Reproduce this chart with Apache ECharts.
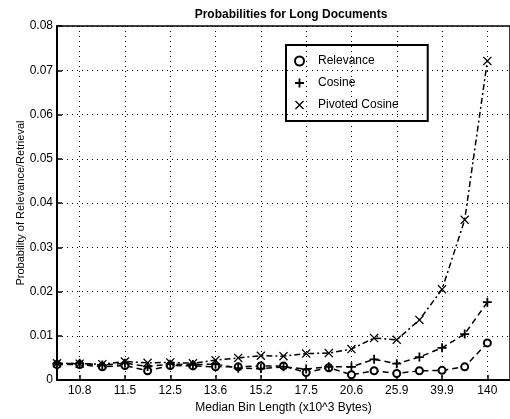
<!DOCTYPE html>
<html>
<head>
<meta charset="utf-8">
<script src="https://cdn.jsdelivr.net/npm/echarts@6/dist/echarts.min.js"></script>
<style>
html,body{margin:0;padding:0;background:#fff;}
#chart{width:510px;height:419px;}
</style>
</head>
<body>
<div id="chart"></div>
<script>
// Bin index 1..21 (21st is empty right margin); ticks labeled on even bins
const tickLabels = ['10.8', '11.5', '12.5', '13.6', '15.2', '17.5', '20.6', '25.9', '39.9', '140'];
const yTicks = [0, 0.01, 0.02, 0.03, 0.04, 0.05, 0.06, 0.07, 0.08];
const relevance = [0.0035, 0.0035, 0.0030, 0.0033, 0.0021, 0.0033, 0.0032, 0.0030, 0.0030, 0.0032,
                   0.0032, 0.0017, 0.0028, 0.0012, 0.0021, 0.0015, 0.0021, 0.0022, 0.0030, 0.0084];
const cosine = [0.0037, 0.0038, 0.0034, 0.0038, 0.0031, 0.0036, 0.0035, 0.0036, 0.0027, 0.0026,
                0.0030, 0.0025, 0.0030, 0.0030, 0.0047, 0.0037, 0.0052, 0.0073, 0.0104, 0.0176];
const pivoted = [0.0038, 0.0037, 0.0036, 0.0042, 0.0039, 0.0040, 0.0038, 0.0045, 0.0050, 0.0055,
                 0.0054, 0.0060, 0.0061, 0.0070, 0.0095, 0.0091, 0.0136, 0.0205, 0.0362, 0.0721];

const categories = [];
for (let i = 0; i < 21; i++) {
  categories.push(i % 2 === 1 ? tickLabels[(i - 1) / 2] : '');
}
const evenBin = (idx) => idx % 2 === 1;

const plusPath = 'path://M4,0h2v4h4v2h-4v4h-2v-4h-4v-2h4z';
const crossPath = 'path://M1,0L5,4L9,0L10,1L6,5L10,9L9,10L5,6L1,10L0,9L4,5L0,1Z';
const FONT = 'Liberation Sans';

const chart = echarts.init(document.getElementById('chart'), null, {renderer: 'canvas'});
chart.setOption({
  animation: false,
  backgroundColor: '#fff',
  textStyle: {fontFamily: FONT, color: '#000'},
  title: {
    text: 'Probabilities for Long Documents',
    left: 286, top: 4, textAlign: 'center',
    textStyle: {fontFamily: FONT, fontSize: 12, fontWeight: 'bold', color: '#000'}
  },
  grid: {
    left: 57, right: -5, top: 26, bottom: 33,
    show: true, borderColor: '#000', borderWidth: 1.5, containLabel: false
  },
  legend: {
    orient: 'vertical',
    left: 286, top: 45,
    selectedMode: false,
    borderColor: '#000', borderWidth: 2,
    padding: [10, 29, 10, 8],
    itemWidth: 9, itemHeight: 9, itemGap: 10,
    textStyle: {fontFamily: FONT, fontSize: 12, color: '#000', padding: [0, 0, 0, 9]},
    data: [
      {name: 'Relevance', icon: 'emptyCircle'},
      {name: 'Cosine', icon: plusPath},
      {name: 'Pivoted Cosine', icon: crossPath}
    ]
  },
  xAxis: {
    type: 'category',
    data: categories,
    boundaryGap: false,
    name: 'Median Bin Length (x10^3 Bytes)',
    nameLocation: 'middle', nameGap: 20,
    nameTextStyle: {fontFamily: FONT, fontSize: 12, color: '#000'},
    axisLine: {lineStyle: {color: '#000', width: 2}},
    axisTick: {inside: true, length: 5, interval: evenBin, lineStyle: {color: '#000', width: 1.5}},
    axisLabel: {interval: evenBin, margin: 5, fontFamily: FONT, fontSize: 12, color: '#000'},
    splitLine: {show: true, interval: evenBin, lineStyle: {color: '#000', type: [1, 4], width: 1}}
  },
  yAxis: {
    type: 'value',
    min: 0, max: 0.08, interval: 0.01,
    name: 'Probability of Relevance/Retrieval',
    nameLocation: 'middle', nameGap: 31, nameMoveOverlap: false,
    nameTextStyle: {fontFamily: FONT, fontSize: 11, color: '#000'},
    axisLine: {show: true, lineStyle: {color: '#000', width: 2}},
    axisTick: {show: true, inside: true, length: 5, lineStyle: {color: '#000', width: 1.5}},
    axisLabel: {
      margin: 4, fontFamily: FONT, fontSize: 12, color: '#000',
      customValues: yTicks,
      formatter: (v) => v === 0 ? '0' : v.toFixed(2)
    },
    splitLine: {show: true, lineStyle: {color: '#000', type: [1, 4], width: 1}}
  },
  series: [
    {
      name: 'Relevance', type: 'line', data: relevance,
      symbol: 'emptyCircle', symbolSize: 7,
      itemStyle: {color: '#000', borderWidth: 1.5},
      lineStyle: {color: '#000', width: 1.5, type: [6, 4]}
    },
    {
      name: 'Cosine', type: 'line', data: cosine,
      symbol: plusPath, symbolSize: 9,
      itemStyle: {color: '#000'},
      lineStyle: {color: '#000', width: 1.5, type: [6, 4]}
    },
    {
      name: 'Pivoted Cosine', type: 'line', data: pivoted,
      symbol: crossPath, symbolSize: 9,
      itemStyle: {color: '#000'},
      lineStyle: {color: '#000', width: 1.5, type: [6, 3, 2, 3]}
    }
  ]
});
</script>
</body>
</html>
